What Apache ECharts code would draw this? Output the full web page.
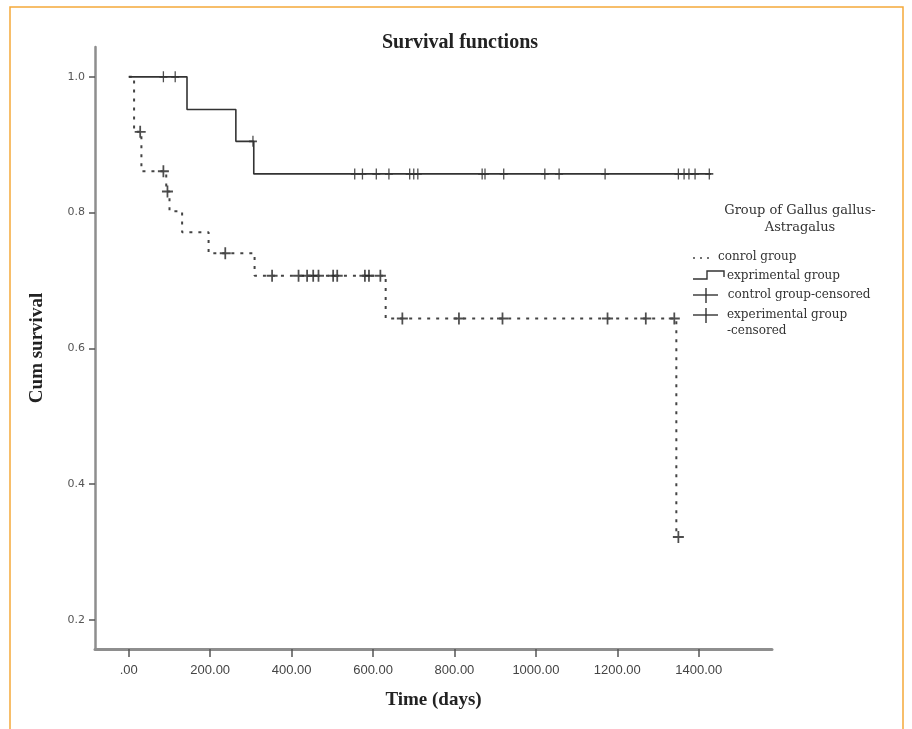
<!DOCTYPE html>
<html>
<head>
<meta charset="utf-8">
<title>Survival functions</title>
<script src="https://cdn.jsdelivr.net/npm/echarts@6.0.0/dist/echarts.min.js"></script>
<style>
  html, body { margin: 0; padding: 0; background: #fff; }
  #chart { width: 912px; height: 729px; }
</style>
</head>
<body>
<div id="chart"></div>
<script>
// Kaplan-Meier steps (time in days, cumulative survival)
const ctrlTime = [0, 13, 31, 92, 100, 131, 196, 309, 631, 1345]
const ctrlSurv = [1.0, 0.919, 0.861, 0.831, 0.802, 0.771, 0.740, 0.707, 0.644, 0.322]
const expTime = [0, 143, 263, 307, 1430]
const expSurv = [1.0, 0.952, 0.905, 0.857, 0.857]

// censored observations
const ctrlCensTime = [28, 85, 95, 237, 352, 417, 438, 453, 466, 502, 512, 580, 590, 618,
  672, 811, 918, 1176, 1270, 1340, 1350]
const ctrlCensSurv = [0.919, 0.861, 0.831, 0.740, 0.707, 0.707, 0.707, 0.707, 0.707, 0.707,
  0.707, 0.707, 0.707, 0.707, 0.644, 0.644, 0.644, 0.644, 0.644, 0.644, 0.322]
const expCensTime = [85, 114, 305, 555, 574, 608, 639, 690, 700, 710, 868, 875, 921, 1022,
  1057, 1170, 1350, 1364, 1376, 1391, 1426]
const expCensSurv = [1.0, 1.0, 0.905, 0.857, 0.857, 0.857, 0.857, 0.857, 0.857, 0.857, 0.857,
  0.857, 0.857, 0.857, 0.857, 0.857, 0.857, 0.857, 0.857, 0.857, 0.857]

const xTicks = [0, 200, 400, 600, 800, 1000, 1200, 1400]
const yTicks = [0.2, 0.4, 0.6, 0.8, 1.0]

const legendTitle = ['Group of Gallus gallus-', 'Astragalus']
const legendLabels = ['conrol group', 'exprimental group', ' control group-censored',
  'experimental group\n-censored']

const zip = (a, b) => a.map((v, i) => [v, b[i]])
const plus = 'path://M0,4.2H10V5.8H0Z M4.2,0H5.8V10H4.2Z'
const serif = '"Liberation Serif", "Times New Roman", serif'
const legendFont = '"DejaVu Serif", serif'

const chart = echarts.init(document.getElementById('chart'))

const legendGraphics = [
  // frame
  {
    type: 'rect', shape: { x: 10, y: 7, width: 893, height: 740 },
    style: { fill: 'none', stroke: '#f5a93a', lineWidth: 1.5 }, silent: true
  },
  {
    type: 'text', style: {
      x: 800, y: 219, text: legendTitle.join('\n'), align: 'center', verticalAlign: 'middle',
      font: '13px ' + legendFont, fill: '#333', lineHeight: 17
    }
  },
  // control group icon (dotted)
  {
    type: 'line', shape: { x1: 693, y1: 258, x2: 714, y2: 258 },
    style: { stroke: '#444', lineWidth: 1.6, lineDash: [2, 5] }
  },
  {
    type: 'text', style: {
      x: 718, y: 257, text: legendLabels[0], verticalAlign: 'middle',
      font: '12px ' + legendFont, fill: '#333'
    }
  },
  // experimental group icon (step)
  {
    type: 'polyline', shape: { points: [[693, 279], [707, 279], [707, 271], [724, 271], [724, 277]] },
    style: { stroke: '#333', lineWidth: 1.4, fill: 'none' }
  },
  {
    type: 'text', style: {
      x: 727, y: 276, text: legendLabels[1], verticalAlign: 'middle',
      font: '12px ' + legendFont, fill: '#333'
    }
  },
  // control censored icon
  {
    type: 'line', shape: { x1: 693, y1: 295, x2: 718, y2: 295 },
    style: { stroke: '#333', lineWidth: 1.4 }
  },
  {
    type: 'line', shape: { x1: 706, y1: 288, x2: 706, y2: 303 },
    style: { stroke: '#333', lineWidth: 1.4 }
  },
  {
    type: 'text', style: {
      x: 724, y: 295, text: legendLabels[2], verticalAlign: 'middle',
      font: '12px ' + legendFont, fill: '#333'
    }
  },
  // experimental censored icon
  {
    type: 'line', shape: { x1: 693, y1: 315, x2: 718, y2: 315 },
    style: { stroke: '#333', lineWidth: 1.4 }
  },
  {
    type: 'line', shape: { x1: 706, y1: 308, x2: 706, y2: 323 },
    style: { stroke: '#333', lineWidth: 1.4 }
  },
  {
    type: 'text', style: {
      x: 727, y: 323, text: legendLabels[3], verticalAlign: 'middle',
      font: '12px ' + legendFont, fill: '#333', lineHeight: 16
    }
  }
]

const option = {
  backgroundColor: '#fff',
  animation: false,
  title: {
    text: 'Survival functions',
    left: 455, top: 28, textAlign: 'center',
    textStyle: { fontFamily: serif, fontWeight: 'bold', fontSize: 20, color: '#222' }
  },
  grid: { left: 95, right: 140, top: 47, bottom: 80 },
  xAxis: {
    type: 'value', min: -83, max: 1580,
    name: 'Time (days)', nameLocation: 'middle', nameGap: 42,
    nameTextStyle: { fontFamily: serif, fontWeight: 'bold', fontSize: 19, color: '#222' },
    splitLine: { show: false },
    axisLine: { show: true, onZero: false, lineStyle: { color: '#8e8e8e', width: 3 } },
    axisTick: { show: true, customValues: xTicks, length: 8, lineStyle: { color: '#555', width: 1.5 } },
    axisLabel: {
      customValues: xTicks, margin: 15, color: '#444',
      fontFamily: '"Liberation Sans Narrow", "Arial Narrow", sans-serif', fontSize: 13,
      formatter: v => v === 0 ? '.00' : v.toFixed(2)
    }
  },
  yAxis: {
    type: 'value', min: 0.157, max: 1.044,
    name: 'Cum survival', nameLocation: 'middle', nameGap: 48, nameRotate: 90,
    nameTextStyle: { fontFamily: serif, fontWeight: 'bold', fontSize: 19, color: '#222' },
    splitLine: { show: false },
    axisLine: { show: true, onZero: false, lineStyle: { color: '#8e8e8e', width: 2.5 } },
    axisTick: { show: true, customValues: yTicks, length: 6, lineStyle: { color: '#555', width: 1.5 } },
    axisLabel: {
      customValues: yTicks, margin: 10, color: '#555',
      fontFamily: '"DejaVu Sans", Verdana, sans-serif', fontSize: 11,
      formatter: v => v.toFixed(1)
    }
  },
  series: [
    {
      name: 'conrol group', type: 'line', step: 'end',
      data: zip(ctrlTime, ctrlSurv), showSymbol: false, silent: true,
      lineStyle: { color: '#444', width: 2, type: [3, 6] }
    },
    {
      name: 'exprimental group', type: 'line', step: 'end',
      data: zip(expTime, expSurv), showSymbol: false, silent: true,
      lineStyle: { color: '#333', width: 1.6, type: 'solid' }
    },
    {
      name: 'control group-censored', type: 'scatter',
      data: zip(ctrlCensTime, ctrlCensSurv), symbol: plus, symbolSize: [11, 12],
      itemStyle: { color: '#222' }, silent: true
    },
    {
      name: 'experimental group-censored', type: 'scatter',
      data: zip(expCensTime, expCensSurv), symbol: plus, symbolSize: [8, 11],
      itemStyle: { color: '#222' }, silent: true
    }
  ],
  graphic: legendGraphics
}

chart.setOption(option)
</script>
</body>
</html>
